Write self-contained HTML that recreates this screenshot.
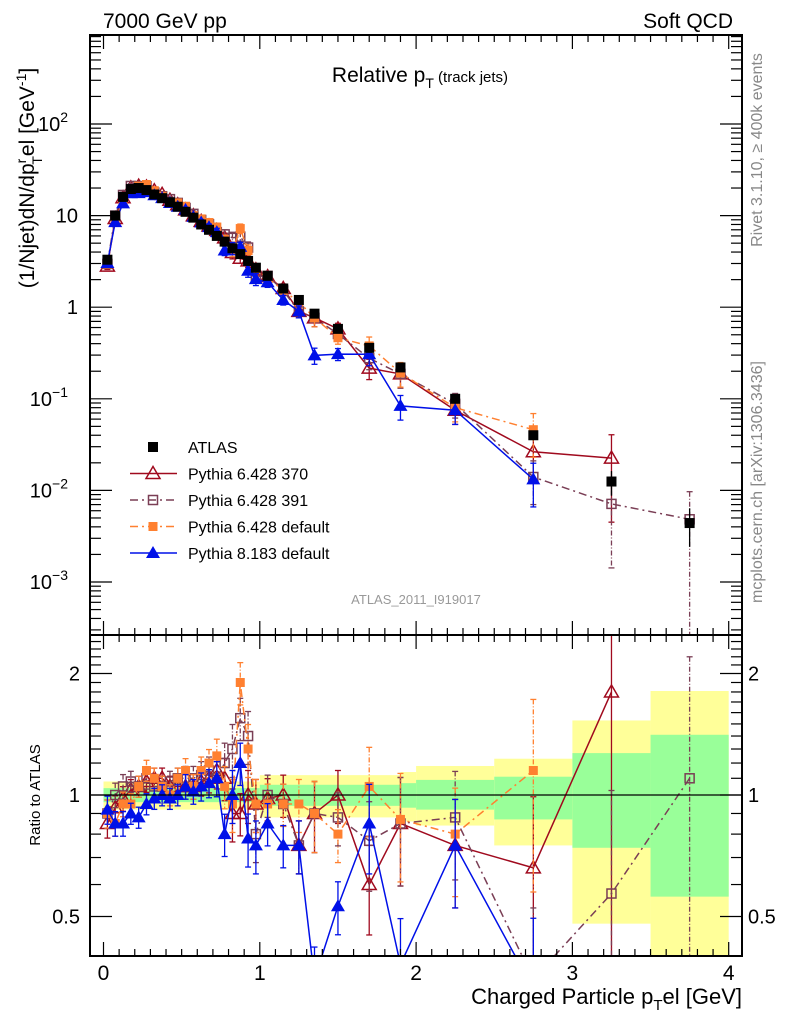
<!DOCTYPE html>
<html><head><meta charset="utf-8"><style>
html,body{margin:0;padding:0;background:#fff;width:786px;height:1024px;overflow:hidden;}
svg{display:block;font-family:"Liberation Sans",Arial,sans-serif;}
</style></head><body>
<svg id="chart" width="786" height="1024" viewBox="0 0 786 1024" xmlns="http://www.w3.org/2000/svg">
<text x="103" y="28" font-size="21">7000 GeV pp</text>
<text x="733" y="28" font-size="21" text-anchor="end">Soft QCD</text>
<text x="420" y="82" font-size="21" text-anchor="middle">Relative p<tspan font-size="14" dy="6">T</tspan><tspan font-size="15" dy="-6"> (track jets)</tspan></text>
<text transform="translate(762,150) rotate(-90)" font-size="16" fill="#888" text-anchor="middle">Rivet 3.1.10, ≥ 400k events</text>
<text transform="translate(762,482) rotate(-90)" font-size="16" fill="#888" text-anchor="middle">mcplots.cern.ch [arXiv:1306.3436]</text>
<text transform="translate(34,178) rotate(-90)" font-size="21" text-anchor="middle">(1/Njet)dN/dp<tspan font-size="14" dy="-8">r</tspan><tspan font-size="14" dy="16" dx="-6">T</tspan><tspan dy="-8">el [GeV</tspan><tspan font-size="14" dy="-8">-1</tspan><tspan dy="8">]</tspan></text>
<text transform="translate(40,795) rotate(-90)" font-size="15" text-anchor="middle">Ratio to ATLAS</text>
<text x="742" y="1004" font-size="22" text-anchor="end">Charged Particle p<tspan font-size="15" dy="6">T</tspan><tspan dy="-6">el [GeV]</tspan></text>
<text x="416" y="604" font-size="13" fill="#999" text-anchor="middle">ATLAS_2011_I919017</text>
<g id="bands"></g><g id="grid"></g><g id="series"></g><g id="axes"></g><g id="legend"></g>
</svg>
<script>
const xCenters=[0.025,0.075,0.125,0.175,0.225,0.275,0.325,0.375,0.425,0.475,0.525,0.575,0.625,0.675,0.725,0.775,0.825,0.875,0.925,0.975,1.05,1.15,1.25,1.35,1.5,1.7,1.9,2.25,2.75,3.25,3.75];
const atlasValues=[3.3,10,16,19.5,20,19,17,15.5,14,12.5,11,9.5,8,7,6,5.2,4.4,3.8,3.2,2.7,2.2,1.6,1.2,0.85,0.58,0.36,0.22,0.1,0.04,0.0125,0.0044];
const atlasErr=[0.02,0.02,0.02,0.02,0.02,0.02,0.02,0.02,0.02,0.02,0.02,0.02,0.03,0.03,0.03,0.03,0.03,0.03,0.03,0.03,0.04,0.04,0.04,0.05,0.05,0.06,0.07,0.08,0.12,0.3,0.45];
const ratio370=[0.85,0.93,0.98,1.03,1.05,1.08,1.1,1.1,1.05,1.05,1.05,1.05,1.08,1.1,1.15,1.1,0.9,0.9,1.0,0.95,0.98,1.0,0.75,0.9,1.0,0.6,0.85,0.75,0.66,1.8,null];
const ratio391=[0.9,1.0,1.05,1.08,1.05,1.1,1.05,1.05,1.08,1.1,1.1,1.1,1.12,1.15,1.1,1.2,1.3,1.55,1.4,0.8,1.0,0.95,0.75,0.9,0.88,0.77,0.85,0.88,0.35,0.57,1.1];
const ratioP6def=[0.9,0.85,0.95,0.95,1.05,1.15,1.1,1.05,1.0,1.1,1.15,1.05,1.15,1.2,1.25,1.05,0.95,1.9,1.3,0.95,0.95,0.95,0.95,0.9,0.8,1.05,0.87,0.8,1.15,null,null];
const ratioP8=[0.92,0.85,0.85,0.9,0.88,0.95,0.98,1.0,0.98,1.0,1.05,1.02,1.05,1.07,1.1,0.8,1.0,1.2,0.78,0.75,0.85,0.75,0.75,0.35,0.53,0.85,0.38,0.75,0.33,null,null];
const mcErr=[0.08,0.07,0.07,0.06,0.06,0.06,0.06,0.06,0.06,0.06,0.07,0.07,0.08,0.08,0.1,0.12,0.15,0.12,0.15,0.15,0.12,0.12,0.15,0.2,0.15,0.25,0.3,0.3,0.5,0.8,1.0];
const bandEdges=[0,1,1.9,2,2.5,3,3.5,4];
const yellowLo=[0.92,0.88,0.86,0.84,0.75,0.48,0.3];
const yellowHi=[1.08,1.12,1.14,1.18,1.23,1.53,1.81];
const greenLo=[0.96,0.94,0.93,0.92,0.87,0.74,0.56];
const greenHi=[1.04,1.06,1.07,1.09,1.11,1.27,1.41];
const xTicks=[0,1,2,3,4];
const yDecades=[-3,-2,-1,0,1,2];
const ratioTicks=[0.5,1,2];

const NS="http://www.w3.org/2000/svg";
const L=90,R=742,T=35,MB=635,RB=956;
const X=v=>103.5+(v)*156.3;
const Y=v=>124-(Math.log10(v)-2)*91.6;
const YR=v=>795-Math.log2(v)*121.5;
function mk(tag,attrs,parent){const e=document.createElementNS(NS,tag);for(const k in attrs)e.setAttribute(k,attrs[k]);parent.appendChild(e);return e;}
const gB=document.getElementById('bands'),gS=document.getElementById('series'),gA=document.getElementById('axes'),gL=document.getElementById('legend');
const defs=mk('defs',{},document.getElementById('chart'));
const c1=mk('clipPath',{id:'cm'},defs);mk('rect',{x:L,y:T,width:R-L,height:MB-T},c1);
const c2=mk('clipPath',{id:'cr'},defs);mk('rect',{x:L,y:MB,width:R-L,height:RB-MB},c2);
gB.setAttribute('clip-path','url(#cr)');
for(let i=0;i<bandEdges.length-1;i++){
 const x1=X(bandEdges[i]),x2=X(bandEdges[i+1]);
 const y=mk('rect',{x:x1,y:YR(yellowHi[i]),width:x2-x1,height:YR(yellowLo[i])-YR(yellowHi[i]),fill:'#ffff99'},gB);
 
 
 const g=mk('rect',{x:x1,y:YR(greenHi[i]),width:x2-x1,height:YR(greenLo[i])-YR(greenHi[i]),fill:'#99ff99'},gB);
 
 
}
const one=mk('line',{x1:L,x2:R,y1:YR(1),y2:YR(1),stroke:'#000','stroke-width':1.2},gA);


function marker(type,x,y,color,parent,s){
 s=s||5.5;
 if(type==='sq')return mk('rect',{x:x-s,y:y-s,width:2*s,height:2*s,fill:'#000'},parent);
 if(type==='osq')return mk('rect',{x:x-s+1,y:y-s+1,width:2*s-2,height:2*s-2,fill:'none',stroke:color,'stroke-width':1.5},parent);
 if(type==='fsq')return mk('rect',{x:x-4.5,y:y-4.5,width:9,height:9,fill:color},parent);
 if(type==='otri')return mk('polygon',{points:`${x},${y-7} ${x-7},${y+5} ${x+7},${y+5}`,fill:'none',stroke:color,'stroke-width':1.5},parent);
 if(type==='ftri')return mk('polygon',{points:`${x},${y-7} ${x-7},${y+5} ${x+7},${y+5}`,fill:color},parent);
}
const series=[
 {name:'pythia-6428-370',r:ratio370,color:'#a00a1e',dash:'',m:'otri',label:'Pythia 6.428 370'},
 {name:'pythia-6428-391',r:ratio391,color:'#7a3e55',dash:'8,4,2,4',m:'osq',label:'Pythia 6.428 391'},
 {name:'pythia-6428-default',r:ratioP6def,color:'#ff8030',dash:'8,4,2,4',m:'fsq',label:'Pythia 6.428 default'},
 {name:'pythia-8183-default',r:ratioP8,color:'#0010e8',dash:'',m:'ftri',label:'Pythia 8.183 default'}
];
const gM=mk('g',{'clip-path':'url(#cm)'},gS);
const gR=mk('g',{'clip-path':'url(#cr)'},gS);
series.forEach(s=>{
 const gm=mk('g',{},gM);
 const gr=mk('g',{},gR);
 let pm=[],pr=[];
 xCenters.forEach((xv,i)=>{if(s.r[i]==null)return;const v=atlasValues[i]*s.r[i];pm.push(X(xv)+','+Y(v));pr.push(X(xv)+','+YR(s.r[i]));});
 const lm=mk('polyline',{points:pm.join(' '),fill:'none',stroke:s.color,'stroke-width':1.5,'stroke-dasharray':s.dash},gm);
 
 const lr=mk('polyline',{points:pr.join(' '),fill:'none',stroke:s.color,'stroke-width':1.5,'stroke-dasharray':s.dash},gr);
 
 xCenters.forEach((xv,i)=>{if(s.r[i]==null)return;
  const v=atlasValues[i]*s.r[i],e=mcErr[i];
  const xp=X(xv);
  [[gm,Y(v*(1+e)),Y(Math.max(v*(1-e),1e-5))],[gr,YR(s.r[i]*(1+e)),YR(Math.max(s.r[i]*(1-e),0.05))]].forEach(([g,y1,y2])=>{
   mk('line',{x1:xp,x2:xp,y1:y1,y2:y2,stroke:s.color,'stroke-width':1.3,'stroke-dasharray':s.dash?'5,2,1,2':''},g);
   mk('line',{x1:xp-3,x2:xp+3,y1:y1,y2:y1,stroke:s.color,'stroke-width':1.3},g);
   mk('line',{x1:xp-3,x2:xp+3,y1:y2,y2:y2,stroke:s.color,'stroke-width':1.3},g);
  });
  const a=marker(s.m,xp,Y(v),s.color,gm);
  const b=marker(s.m,xp,YR(s.r[i]),s.color,gr);
 });
});
const gAt=mk('g',{},gM);
xCenters.forEach((xv,i)=>{const v=atlasValues[i],xp=X(xv);
 mk('line',{x1:xp,x2:xp,y1:Y(v*(1+atlasErr[i])),y2:Y(v*(1-atlasErr[i])),stroke:'#000','stroke-width':1.3},gAt);
 const m=marker('sq',xp,Y(v),'#000',gAt,5);});
[[T,MB],[MB,RB]].forEach(([a,b])=>mk('rect',{x:L,y:a,width:R-L,height:b-a,fill:'none',stroke:'#000','stroke-width':2},gA));
for(let v=0;v<=4.0001;v+=0.1){const xp=X(v),major=Math.abs(v-Math.round(v))<1e-6;const len=major?14:7;
 [[T,1],[MB,-1],[MB,1],[RB,-1]].forEach(([y,d])=>mk('line',{x1:xp,x2:xp,y1:y,y2:y+d*len,stroke:'#000','stroke-width':1.2},gA));}
xTicks.forEach(v=>{const t=mk('text',{x:X(v),y:980,'font-size':21,'text-anchor':'middle'},gA);t.textContent=v;});
for(let d=-4;d<=2;d++){for(let k=1;k<10;k++){const v=k*Math.pow(10,d),yp=Y(v);if(yp<T||yp>MB)continue;const len=k===1?22:11;
 mk('line',{x1:L,x2:L+len,y1:yp,y2:yp,stroke:'#000','stroke-width':1.2},gA);mk('line',{x1:R,x2:R-len,y1:yp,y2:yp,stroke:'#000','stroke-width':1.2},gA);}}
yDecades.forEach(d=>{const t=mk('text',{x:78,y:Y(Math.pow(10,d))+7,'font-size':20,'text-anchor':'end'},gA);
 
 if(d===0)t.textContent='1';else if(d===1)t.textContent='10';else{t.setAttribute('x',68);t.textContent='10';const s=mk('tspan',{'font-size':14,dy:-9},t);s.textContent=(d<0?'\u2212':'')+Math.abs(d);}});
for(let v=0.4;v<=2.5;v=Math.round((v+0.1)*10)/10){const yp=YR(v);if(yp<MB||yp>RB)continue;const major=ratioTicks.includes(v);const len=major?22:11;
 mk('line',{x1:L,x2:L+len,y1:yp,y2:yp,stroke:'#000','stroke-width':1.2},gA);mk('line',{x1:R,x2:R-len,y1:yp,y2:yp,stroke:'#000','stroke-width':1.2},gA);}
ratioTicks.forEach(v=>{const a=mk('text',{x:80,y:YR(v)+7,'font-size':20,'text-anchor':'end'},gA);a.textContent=v;
 const b=mk('text',{x:748,y:YR(v)+7,'font-size':20},gA);b.textContent=v;});
const leg=[{m:'sq',color:'#000',label:'ATLAS',dash:null,name:'legend-atlas'}].concat(series.map(s=>({m:s.m,color:s.color,label:s.label,dash:s.dash,name:'legend-'+s.name})));
leg.forEach((e,i)=>{const y=447+i*26.5;const g=mk('g',{},gL);
 if(e.dash!==null)mk('line',{x1:130,x2:177,y1:y,y2:y,stroke:e.color,'stroke-width':1.5,'stroke-dasharray':e.dash},g);
 marker(e.m,153,y,e.color,g,e.m==='sq'?5:5.5);
 const t=mk('text',{x:188,y:y+6,'font-size':16},g);t.textContent=e.label;});
</script>
</body></html>
